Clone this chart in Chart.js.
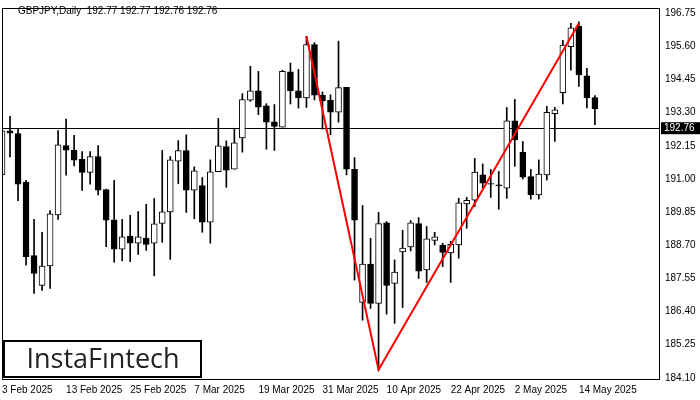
<!DOCTYPE html>
<html><head><meta charset="utf-8">
<script src="https://cdn.jsdelivr.net/npm/chart.js@4/dist/chart.umd.min.js"></script>
<style>html,body{margin:0;padding:0;background:#fff}#w{width:700px;height:400px}</style>
</head><body><div id="w"><canvas id="c"></canvas></div>
<script>
const opens  = [191.14,192.67,192.57,190.88,188.34,187.31,187.98,189.75,192.16,191.99,191.68,191.23,191.78,190.63,189.58,188.56,189.02,188.77,188.95,188.77,189.46,189.86,191.62,191.98,190.61,190.77,189.50,191.25,192.12,191.34,192.42,193.73,194.06,193.54,192.98,192.80,194.72,194.06,193.81,195.66,193.90,193.73,193.32,194.18,191.33,186.72,188.05,186.68,189.48,187.38,188.47,188.64,189.45,187.84,188.87,188.71,188.43,188.71,190.13,190.26,191.14,190.84,190.80,190.68,193.02,191.92,191.08,190.45,191.14,193.26,193.99,195.59,196.30,194.58,193.82];
const highs  = [192.82,193.17,192.76,190.95,189.60,189.15,189.90,192.68,193.08,192.51,191.95,191.95,192.16,190.65,190.95,189.60,189.74,189.87,190.12,190.32,191.99,191.78,192.33,192.53,191.42,191.05,191.66,193.10,192.32,192.76,193.96,194.91,194.73,193.61,193.58,194.77,195.02,194.80,195.95,195.73,194.02,193.92,195.78,194.18,191.74,190.08,188.94,189.84,189.52,188.19,189.22,189.56,189.66,189.35,189.15,188.77,188.84,190.33,190.36,191.71,191.52,191.33,191.26,193.48,193.76,192.30,191.33,191.66,193.52,193.48,195.81,196.40,196.45,194.84,193.89];
const lows   = [190.04,191.76,190.25,188.01,187.03,187.13,187.20,189.60,191.13,191.45,190.60,190.82,190.45,188.65,188.11,188.16,188.13,188.38,188.52,187.64,188.80,188.21,190.84,189.84,189.62,189.15,188.77,191.25,190.71,191.34,191.93,193.69,193.23,192.03,191.99,192.80,193.60,193.46,193.48,193.74,192.73,192.53,192.97,191.14,187.49,186.10,186.51,184.36,186.31,185.99,186.54,188.50,187.55,187.41,188.71,187.96,187.41,188.25,189.29,190.04,190.68,190.36,189.95,190.33,191.44,191.00,190.30,190.30,190.96,192.30,193.60,194.77,194.21,193.46,192.88];
const closes = [192.67,192.59,190.82,188.30,187.72,187.98,189.79,192.18,192.00,191.65,191.23,191.78,190.61,189.57,188.56,188.99,188.77,188.99,188.73,189.44,189.86,191.66,191.98,190.61,191.28,189.50,191.25,192.15,191.30,192.25,193.75,194.06,193.49,192.97,192.82,194.73,194.06,193.81,195.66,193.91,193.71,193.32,194.17,191.34,189.57,188.05,186.68,189.45,187.31,187.77,188.60,189.48,187.80,188.92,188.99,188.45,188.73,190.17,190.26,191.24,190.85,190.82,190.76,193.02,192.35,191.06,190.45,191.17,193.31,193.40,195.64,196.24,194.61,193.81,193.44];
const dateTicks = {0:'3 Feb 2025',8:'13 Feb 2025',16:'25 Feb 2025',24:'7 Mar 2025',32:'19 Mar 2025',40:'31 Mar 2025',48:'10 Apr 2025',56:'22 Apr 2025',64:'2 May 2025',72:'14 May 2025'};
const priceTicks = [184.10,185.25,186.40,187.55,188.70,189.85,191.00,192.15,193.30,194.45,195.60,196.75];
const patternX = [38,47,72];
const patternY = [195.95,184.38,196.40];
const lastPrice = 192.76;
const titleText = 'GBPJPY,Daily  192.77 192.77 192.76 192.76';

const idx = opens.map((_,i)=>i);
const wicks = idx.map(i=>({x:i,y:[lows[i],highs[i]]}));
const bodies = idx.map(i=>({x:i,y:[opens[i],closes[i]===opens[i]?closes[i]+0.02:closes[i]]}));
const bodyFill = idx.map(i=>closes[i]>=opens[i]?'#ffffff':'#000000');

const extras = {
  id:'extras',
  beforeDatasetsDraw(ch){
    const {ctx,chartArea:a,scales:{y}}=ch;
    ctx.save();
    ctx.strokeStyle='#000';ctx.lineWidth=1;
    const yy=Math.round(y.getPixelForValue(lastPrice))+0.5;
    ctx.beginPath();ctx.moveTo(a.left,yy);ctx.lineTo(a.right,yy);ctx.stroke();
    ctx.restore();
  },
  afterDraw(ch){
    const {ctx,chartArea:a,scales:{y}}=ch;
    ctx.save();
    ctx.strokeStyle='#000';ctx.lineWidth=1;
    ctx.strokeRect(a.left+0.5,a.top+0.5,a.right-a.left,a.bottom-a.top);
    ctx.fillStyle='#000';ctx.font='10px "Liberation Sans"';ctx.textBaseline='middle';ctx.textAlign='left';
    ctx.fillText(titleText,18,11);
    const yy=y.getPixelForValue(lastPrice);
    ctx.fillRect(a.right+2,yy-6,40,12);
    ctx.fillStyle='#fff';ctx.fillText(lastPrice.toFixed(2),a.right+5,yy+0.5);
    ctx.fillStyle='#fff';ctx.fillRect(3,340,199,38);
    ctx.lineWidth=2;ctx.strokeStyle='#000';ctx.strokeRect(4,341,197,36);
    ctx.fillStyle='#222';ctx.font='500 27px "Open Sans"';ctx.textAlign='center';
    ctx.fillText('InstaFıntech',103,360);
    ctx.restore();
  }
};

new Chart(document.getElementById('c'),{
  type:'bar',
  data:{datasets:[
    {type:'line',data:patternX.map((x,i)=>({x,y:patternY[i]})),borderColor:'#ff0000',borderWidth:2,pointRadius:0,order:0},
    {data:wicks,backgroundColor:'#000',barThickness:1,grouped:false,order:2},
    {data:bodies,backgroundColor:bodyFill,borderColor:'#000',borderWidth:1,borderSkipped:false,barThickness:6,grouped:false,order:1}
  ]},
  options:{
    responsive:true,maintainAspectRatio:false,animation:false,
    layout:{padding:{left:2,top:0,right:0,bottom:0}},
    plugins:{legend:{display:false},tooltip:{enabled:false}},
    scales:{
      x:{type:'linear',min:0,max:82,offset:false,grid:{display:false,drawTicks:true,tickLength:4},border:{color:'#000'},
        afterBuildTicks(s){s.ticks=Object.keys(dateTicks).map(v=>({value:+v}));},
        afterFit(s){s.height=21;},
        ticks:{autoSkip:false,maxRotation:0,align:'start',padding:1,color:'#000',font:{family:'Liberation Sans',size:10},callback:v=>dateTicks[v]||''}},
      y:{position:'right',min:184.06,max:196.93,grid:{display:false,tickLength:4},border:{color:'#000'},
        afterBuildTicks(s){s.ticks=priceTicks.map(v=>({value:v}));},
        afterFit(s){s.width=41;},
        ticks:{padding:2,color:'#000',font:{family:'Liberation Sans',size:10},callback:v=>v.toFixed(2)}}
    }
  },
  plugins:[extras]
});
</script></body></html>
